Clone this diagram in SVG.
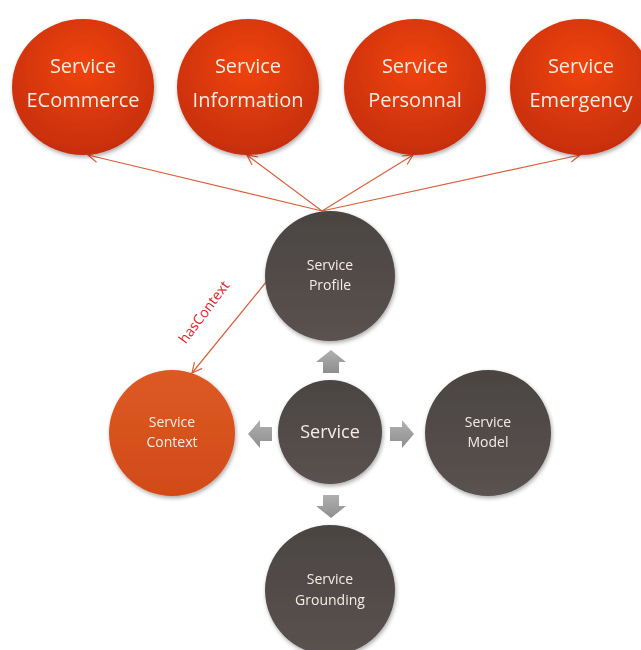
<svg xmlns="http://www.w3.org/2000/svg" width="641" height="650" viewBox="0 0 641 650">
<defs>
<radialGradient id="red" cx="50%" cy="35%" r="65%">
<stop offset="0" stop-color="#f0440e"/>
<stop offset="1" stop-color="#c62e0e"/>
</radialGradient>
<linearGradient id="gray" x1="0" y1="0" x2="0" y2="1">
<stop offset="0" stop-color="#4b4442"/>
<stop offset="1" stop-color="#5a5250"/>
</linearGradient>
<linearGradient id="orange" x1="0" y1="0" x2="0" y2="1">
<stop offset="0" stop-color="#dc5a24"/>
<stop offset="1" stop-color="#d24a18"/>
</linearGradient>
<linearGradient id="ba" x1="0" y1="0" x2="0" y2="1">
<stop offset="0" stop-color="#b0b0b0"/>
<stop offset="1" stop-color="#8e8e8e"/>
</linearGradient>
<marker id="open" viewBox="0 0 12 12" refX="11" refY="6" markerWidth="12" markerHeight="12" markerUnits="userSpaceOnUse" orient="auto">
<path d="M1,1 L11,6 L1,11" fill="none" stroke="#d9603b" stroke-width="1.2"/>
</marker>
<filter id="sh" x="-20%" y="-20%" width="140%" height="140%">
<feGaussianBlur in="SourceAlpha" stdDeviation="2"/>
<feOffset dx="1" dy="2"/>
<feComponentTransfer><feFuncA type="linear" slope="0.35"/></feComponentTransfer>
<feMerge><feMergeNode/><feMergeNode in="SourceGraphic"/></feMerge>
</filter>
</defs>
<style>
.t{font-family:"Open Sans","DejaVu Sans",sans-serif;fill:#f7ece4;text-anchor:middle}
.big{font-size:20px}
.mid{font-size:14px}
.lnk{stroke:#d9603b;stroke-width:1.2;fill:none}
</style>
<rect width="641" height="650" fill="#ffffff"/>
<g id="connectors">
<line class="lnk" x1="322" y1="211" x2="88" y2="155" marker-end="url(#open)"/>
<line class="lnk" x1="322" y1="211" x2="247" y2="155" marker-end="url(#open)"/>
<line class="lnk" x1="322" y1="211" x2="413" y2="155" marker-end="url(#open)"/>
<line class="lnk" x1="322" y1="211" x2="580" y2="155" marker-end="url(#open)"/>
<line class="lnk" x1="267" y1="281" x2="192" y2="373" marker-end="url(#open)"/>
<text x="208" y="315" transform="rotate(-53 208 315)" font-family="'Open Sans','DejaVu Sans',sans-serif" font-size="14" fill="#e0202a" text-anchor="middle">hasContext</text>
<path d="M331,350 L346,362 L339,362 L339,373 L323,373 L323,362 L316,362 Z" fill="url(#ba)"/>
<path d="M331,518 L346,506 L339,506 L339,495 L323,495 L323,506 L316,506 Z" fill="url(#ba)"/>
<path d="M248,434 L260,420 L260,427 L272,427 L272,441 L260,441 L260,448 Z" fill="url(#ba)"/>
<path d="M414,434 L402,420 L402,427 L390,427 L390,441 L402,441 L402,448 Z" fill="url(#ba)"/>
</g>
<g id="ecommerce" filter="url(#sh)">
<ellipse cx="83" cy="87" rx="71" ry="68" fill="url(#red)"/>
<text class="t big" x="83" y="73">Service</text>
<text class="t big" x="83" y="107">ECommerce</text>
</g>
<g id="information" filter="url(#sh)">
<ellipse cx="248" cy="87" rx="71" ry="68" fill="url(#red)"/>
<text class="t big" x="248" y="73">Service</text>
<text class="t big" x="248" y="107">Information</text>
</g>
<g id="personnal" filter="url(#sh)">
<ellipse cx="415" cy="87" rx="71" ry="68" fill="url(#red)"/>
<text class="t big" x="415" y="73">Service</text>
<text class="t big" x="415" y="107">Personnal</text>
</g>
<g id="emergency" filter="url(#sh)">
<ellipse cx="581" cy="87" rx="71" ry="68" fill="url(#red)"/>
<text class="t big" x="581" y="73">Service</text>
<text class="t big" x="581" y="107">Emergency</text>
</g>
<g id="profile" filter="url(#sh)">
<circle cx="330" cy="276" r="65" fill="url(#gray)"/>
<text class="t mid" x="330" y="270">Service</text>
<text class="t mid" x="330" y="290">Profile</text>
</g>
<g id="service" filter="url(#sh)">
<circle cx="330" cy="432" r="52" fill="url(#gray)"/>
<text class="t" x="330" y="438" font-size="18">Service</text>
</g>
<g id="context" filter="url(#sh)">
<circle cx="172" cy="433" r="63" fill="url(#orange)"/>
<text class="t mid" x="172" y="427">Service</text>
<text class="t mid" x="172" y="447">Context</text>
</g>
<g id="model" filter="url(#sh)">
<circle cx="488" cy="433" r="63" fill="url(#gray)"/>
<text class="t mid" x="488" y="427">Service</text>
<text class="t mid" x="488" y="447">Model</text>
</g>
<g id="grounding" filter="url(#sh)">
<circle cx="330" cy="590" r="65" fill="url(#gray)"/>
<text class="t mid" x="330" y="584">Service</text>
<text class="t mid" x="330" y="605">Grounding</text>
</g>
</svg>
